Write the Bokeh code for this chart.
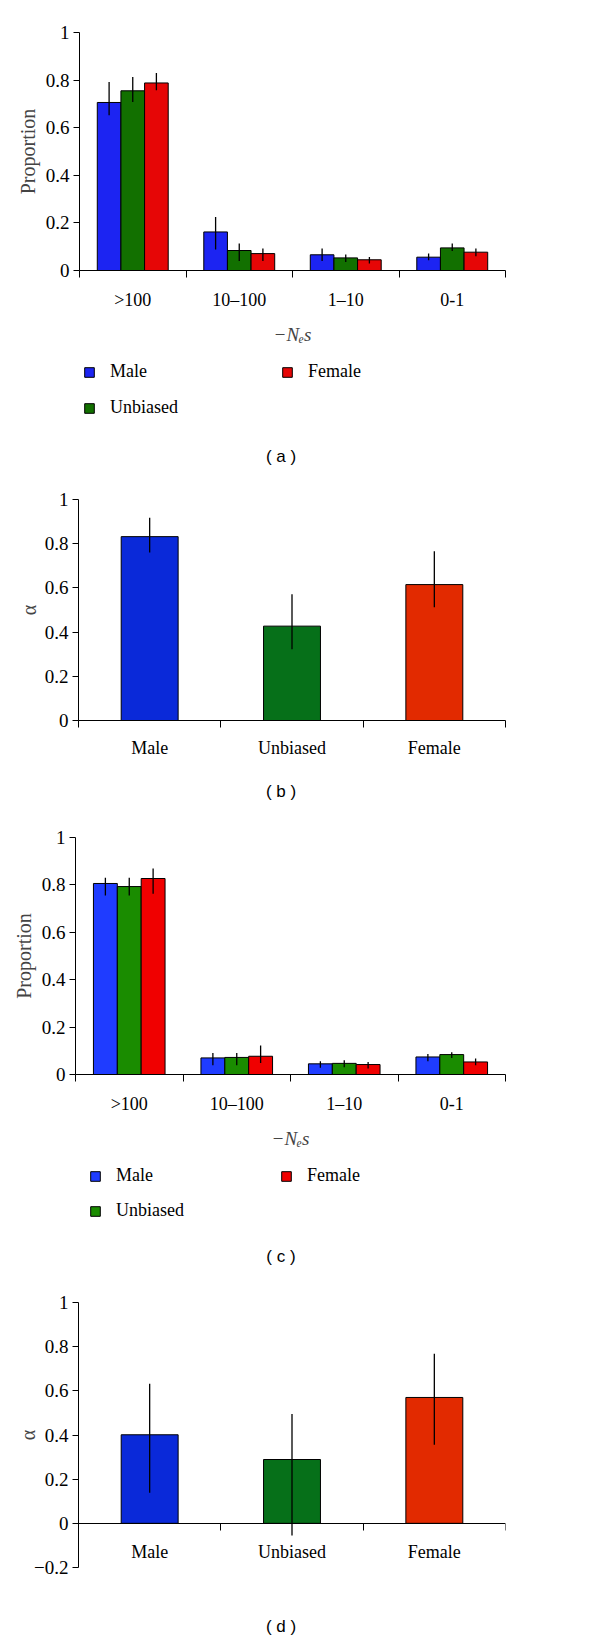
from bokeh.plotting import figure
from bokeh.models import (ColumnDataSource, Range1d, FixedTicker, LinearAxis,
                          Legend, LegendItem, Div)
from bokeh.layouts import column
from bokeh.embed import file_html
from bokeh.resources import INLINE

# ---------------- data ----------------
ne_categories = [">100", "10–100", "1–10", "0-1"]
series = ["Male", "Unbiased", "Female"]
alpha_categories = ["Male", "Unbiased", "Female"]

y_ticks = [0, 0.2, 0.4, 0.6, 0.8, 1]
y_tick_labels = ["0", "0.2", "0.4", "0.6", "0.8", "1"]
y_ticks_d = [-0.2, 0, 0.2, 0.4, 0.6, 0.8, 1]
y_tick_labels_d = ["−0.2", "0", "0.2", "0.4", "0.6", "0.8", "1"]

# panel (a)
a_male = [0.706, 0.162, 0.066, 0.056]
a_male_lo = [0.652, 0.088, 0.040, 0.043]
a_male_hi = [0.792, 0.225, 0.092, 0.071]
a_unbiased = [0.755, 0.084, 0.053, 0.095]
a_unbiased_lo = [0.708, 0.040, 0.036, 0.082]
a_unbiased_hi = [0.813, 0.113, 0.067, 0.113]
a_female = [0.788, 0.071, 0.045, 0.077]
a_female_lo = [0.757, 0.040, 0.029, 0.060]
a_female_hi = [0.830, 0.092, 0.057, 0.092]

# panel (b)
b_alpha = [0.832, 0.427, 0.615]
b_lo = [0.760, 0.322, 0.513]
b_hi = [0.917, 0.571, 0.766]

# panel (c)
c_male = [0.806, 0.070, 0.045, 0.074]
c_male_lo = [0.755, 0.039, 0.028, 0.056]
c_male_hi = [0.830, 0.091, 0.056, 0.086]
c_unbiased = [0.793, 0.072, 0.047, 0.084]
c_unbiased_lo = [0.755, 0.039, 0.031, 0.070]
c_unbiased_hi = [0.830, 0.091, 0.060, 0.094]
c_female = [0.827, 0.077, 0.042, 0.053]
c_female_lo = [0.763, 0.049, 0.025, 0.039]
c_female_hi = [0.869, 0.122, 0.053, 0.067]

# panel (d)
d_alpha = [0.401, 0.289, 0.570]
d_lo = [0.139, -0.055, 0.356]
d_hi = [0.632, 0.495, 0.768]

# ---------------- styling ----------------
SERIF = "Liberation Serif"
SANS = "Liberation Sans"
colors_a = ["#1c24f2", "#127000", "#e60606"]
colors_b = ["#0a29d9", "#067019", "#e22a00"]
colors_c = ["#1f3cff", "#1a8c00", "#f00000"]


def base_fig(height, left, top, bottom, y_range, right=95):
    p = figure(width=600, height=height, output_backend="svg", toolbar_location=None,
               x_axis_location=None, y_axis_location=None,
               y_range=y_range,
               min_border_left=left, min_border_right=right,
               min_border_top=top, min_border_bottom=bottom)
    p.outline_line_color = None
    p.grid.visible = False
    p.background_fill_color = "white"
    p.border_fill_color = "white"
    return p


def y_axis(p, ticks, labels, label, standoff=4):
    ax = LinearAxis(ticker=FixedTicker(ticks=ticks, minor_ticks=[]),
                    major_label_overrides={t: s for t, s in zip(ticks, labels)},
                    axis_label=label)
    ax.major_tick_out = 6
    ax.major_tick_in = 0
    ax.minor_tick_out = 0
    ax.major_label_standoff = 4
    ax.major_label_text_font = SERIF
    ax.major_label_text_font_size = "19px"
    ax.major_label_text_color = "black"
    ax.axis_label_text_font = SERIF
    ax.axis_label_text_font_size = "20px"
    ax.axis_label_text_font_style = "normal"
    ax.axis_label_standoff = standoff
    ax.axis_line_color = "black"
    ax.major_tick_line_color = "black"
    p.add_layout(ax, "left")
    return ax


def x_axis(p, cats, label=None, fixed=None, standoff=12):
    centers = [i + 0.5 for i in range(len(cats))]
    bounds = list(range(len(cats) + 1))
    kw = {}
    if fixed is not None:
        kw["fixed_location"] = fixed
    ax = LinearAxis(ticker=FixedTicker(ticks=centers, minor_ticks=bounds),
                    major_label_overrides={c: s for c, s in zip(centers, cats)}, **kw)
    ax.major_tick_out = 0
    ax.major_tick_in = 0
    ax.minor_tick_out = 7
    ax.minor_tick_in = 0
    ax.minor_tick_line_color = "black"
    ax.major_label_standoff = standoff
    ax.major_label_text_font = SERIF
    ax.major_label_text_font_size = "18px"
    ax.major_label_text_color = "black"
    ax.axis_line_color = "black"
    if label:
        ax.axis_label = label
        ax.axis_label_text_font = SERIF
        ax.axis_label_text_font_size = "19px"
        ax.axis_label_text_font_style = "italic"
        ax.axis_label_standoff = 11
    p.add_layout(ax, "below")
    return ax


def grouped(height, left, top, bottom, vals, los, his, colors):
    p = base_fig(height, left, top, bottom, Range1d(0, 1))
    p.x_range = Range1d(0, len(ne_categories))
    offsets = [-0.222, 0.0, 0.222]
    for j, name in enumerate(series):
        xs = [i + 0.5 + offsets[j] for i in range(len(ne_categories))]
        src = ColumnDataSource(dict(x=xs, top=vals[j], lo=los[j], hi=his[j]))
        p.vbar(x="x", top="top", bottom=0, width=0.222, source=src,
               fill_color=colors[j], line_color="black", line_width=1)
        p.segment(x0="x", y0="lo", x1="x", y1="hi", source=src,
                  line_color="black", line_width=1.3)
    y_axis(p, y_ticks, y_tick_labels, "Proportion")
    x_axis(p, ne_categories, label="−Nₑs")
    return p


def legend_fig(height, left, top, pad, vals, colors, label_w, spacing):
    # a frame with the same series, whose value range lies outside the view,
    # so that only the legend is seen
    p = base_fig(height, left, top, 0, Range1d(5, 6))
    p.x_range = Range1d(0, len(ne_categories))
    items = []
    for j, (name, col) in enumerate(zip(series, colors)):
        xs = [i + 0.5 for i in range(len(ne_categories))]
        src = ColumnDataSource(dict(x=xs, top=vals[j]))
        r = p.vbar(x="x", top="top", bottom=0, width=0.222, source=src,
                   fill_color=col, line_color="black", line_width=1)
        items.append(LegendItem(label=name, renderers=[r]))
    legend = Legend(items=items, orientation="vertical", nrows=2, location="top_left",
                    border_line_color="white", border_line_alpha=0,
                    background_fill_alpha=0,
                    glyph_width=12, glyph_height=12, label_standoff=15,
                    label_width=label_w, label_height=21, spacing=spacing,
                    padding=pad, margin=0,
                    label_text_font=SERIF, label_text_font_size="18px",
                    label_text_color="black")
    p.add_layout(legend, "center")
    return p


def single(height, left, top, bottom, vals, los, his, colors, y_rng, ticks, labels,
           fixed=None, standoff=10, label_standoff=4):
    p = base_fig(height, left, top, bottom, y_rng)
    p.x_range = Range1d(0, len(alpha_categories))
    xs = [i + 0.5 for i in range(len(alpha_categories))]
    src = ColumnDataSource(dict(x=xs, top=vals, lo=los, hi=his, color=colors))
    p.vbar(x="x", top="top", bottom=0, width=0.4, source=src,
           fill_color="color", line_color="black", line_width=1)
    p.segment(x0="x", y0="lo", x1="x", y1="hi", source=src,
              line_color="black", line_width=1.3)
    y_axis(p, ticks, labels, "α", standoff=label_standoff)
    x_axis(p, alpha_categories, fixed=fixed, standoff=standoff)
    return p


def caption(txt, height, line_height):
    return Div(text=f'<div style="width:562px;text-align:center;font-family:\'{SANS}\';'
                    f'font-size:17px;line-height:{line_height}px;color:black;">{txt}</div>',
               width=600, height=height, margin=0)


p_a = grouped(350, 79, 32, 80,
              [a_male, a_unbiased, a_female],
              [a_male_lo, a_unbiased_lo, a_female_lo],
              [a_male_hi, a_unbiased_hi, a_female_hi],
              colors_a)
leg_a = legend_fig(80, 79, 7, 4, [a_male, a_unbiased, a_female], colors_a, 156, 15)
p_b = single(290, 78, 19, 50, b_alpha, b_lo, b_hi, colors_b,
             Range1d(0, 1), y_ticks, y_tick_labels, standoff=10, label_standoff=2)
p_c = grouped(337, 75, 23, 75,
              [c_male, c_unbiased, c_female],
              [c_male_lo, c_unbiased_lo, c_female_lo],
              [c_male_hi, c_unbiased_hi, c_female_hi],
              colors_c)
leg_c = legend_fig(81, 75, 0, 14, [c_male, c_unbiased, c_female], colors_c, 150, 14)
p_d = single(322, 78, 20, 37, d_alpha, d_lo, d_hi, colors_b,
             Range1d(-0.2, 1), y_ticks_d, y_tick_labels_d, fixed=0, standoff=12,
             label_standoff=-8)

layout = column(column(p_a), column(leg_a), caption("( a )", 50, 54),
                column(p_b), caption("( b )", 44, 44),
                column(p_c), column(leg_c), caption("( c )", 50, 50),
                column(p_d), caption("( d )", 38, 46),
                spacing=0)

open("out.html", "w").write(file_html(layout, INLINE))
